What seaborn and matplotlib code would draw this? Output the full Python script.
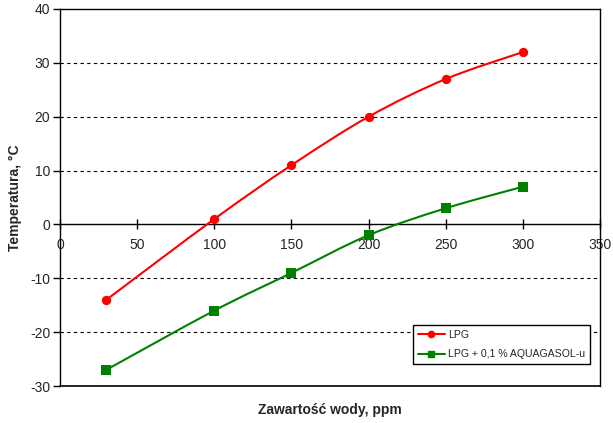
import numpy as np
import matplotlib
matplotlib.use("Agg")
import matplotlib.pyplot as plt
import seaborn as sns
from matplotlib.path import Path
from matplotlib.patches import PathPatch
from matplotlib.lines import Line2D

water_ppm = [30, 100, 150, 200, 250, 300]
temp_lpg = [-14, 1, 11, 20, 27, 32]
temp_aquagasol = [-27, -16, -9, -2, 3, 7]
series_names = ["LPG", "LPG + 0,1 % AQUAGASOL-u"]
series_colors = ["#FF0000", "#008000"]
series_markers = ["o", "s"]

sns.set_style("white")
plt.rcParams['font.family'] = ['Liberation Sans', 'DejaVu Sans']
plt.rcParams['axes.unicode_minus'] = False


def smooth_path(x, y):
    # Excel-like smoothed line: Catmull-Rom segments as cubic Bezier curves
    x = np.asarray(x, float)
    y = np.asarray(y, float)
    verts = [(x[0], y[0])]
    codes = [Path.MOVETO]
    n = len(x)
    for i in range(n - 1):
        p0 = np.array([x[max(i - 1, 0)], y[max(i - 1, 0)]])
        p1 = np.array([x[i], y[i]])
        p2 = np.array([x[i + 1], y[i + 1]])
        p3 = np.array([x[min(i + 2, n - 1)], y[min(i + 2, n - 1)]])
        c1 = p1 + (p2 - p0) / 6
        c2 = p2 - (p3 - p1) / 6
        verts += [tuple(c1), tuple(c2), tuple(p2)]
        codes += [Path.CURVE4] * 3
    return Path(verts, codes)


fig = plt.figure(figsize=(6.13, 4.23), dpi=100)
ax = fig.add_axes([60 / 613, 1 - 386 / 423, 540 / 613, 377 / 423])

for yv, name, col, mk in zip([temp_lpg, temp_aquagasol], series_names,
                             series_colors, series_markers):
    ax.add_patch(PathPatch(smooth_path(water_ppm, yv), facecolor="none",
                           edgecolor=col, lw=1.5, zorder=3))
    sns.scatterplot(x=water_ppm, y=yv, ax=ax, color=col, marker=mk,
                    s=45 if mk == "o" else 55, edgecolor=col, linewidth=0,
                    zorder=4, legend=False)

ax.set_xlim(0, 350)
ax.set_ylim(-30, 40)
ax.set_xticks(np.arange(0, 351, 50))
ax.set_yticks(np.arange(-30, 41, 10))

for g in [-20, -10, 10, 20, 30]:
    ax.axhline(g, color="black", lw=0.8, ls=(0, (3, 3)), zorder=1)

for s in ["top", "right", "left"]:
    ax.spines[s].set_color("black")
    ax.spines[s].set_linewidth(1)
ax.spines["bottom"].set_position(("data", 0))
ax.spines["bottom"].set_color("black")
ax.spines["bottom"].set_linewidth(1)
ax.axhline(-30, color="black", lw=1.2, clip_on=False, zorder=5)

ax.tick_params(axis="x", direction="inout", length=7, width=1, color="black",
               labelsize=10, pad=6, bottom=True)
ax.tick_params(axis="y", direction="out", length=5, width=1, color="black",
               labelsize=10, pad=2, left=True)

ax.set_xlabel("")
ax.set_ylabel("Temperatura, °C", fontsize=10, fontweight="bold", labelpad=6)
fig.text(330 / 613, 1 - 410 / 423, "Zawartość wody, ppm", fontsize=10,
         fontweight="bold", ha="center", va="center")

handles = [Line2D([0], [0], color=c, lw=1.5, marker=m,
                  markersize=4.5 if m == "o" else 5)
           for c, m in zip(series_colors, series_markers)]
leg = ax.legend(handles, series_names, loc="lower right",
                bbox_to_anchor=(590 / 613, 1 - 364 / 423), bbox_transform=fig.transFigure,
                fontsize=7.6, frameon=True, fancybox=False, edgecolor="black",
                framealpha=1, facecolor="white",
                borderpad=0.45, handlelength=2.6, handletextpad=0.3, labelspacing=0.9,
                borderaxespad=0)
leg.get_frame().set_linewidth(1)
leg.set_zorder(10)

fig.savefig("out.png", dpi=100)
